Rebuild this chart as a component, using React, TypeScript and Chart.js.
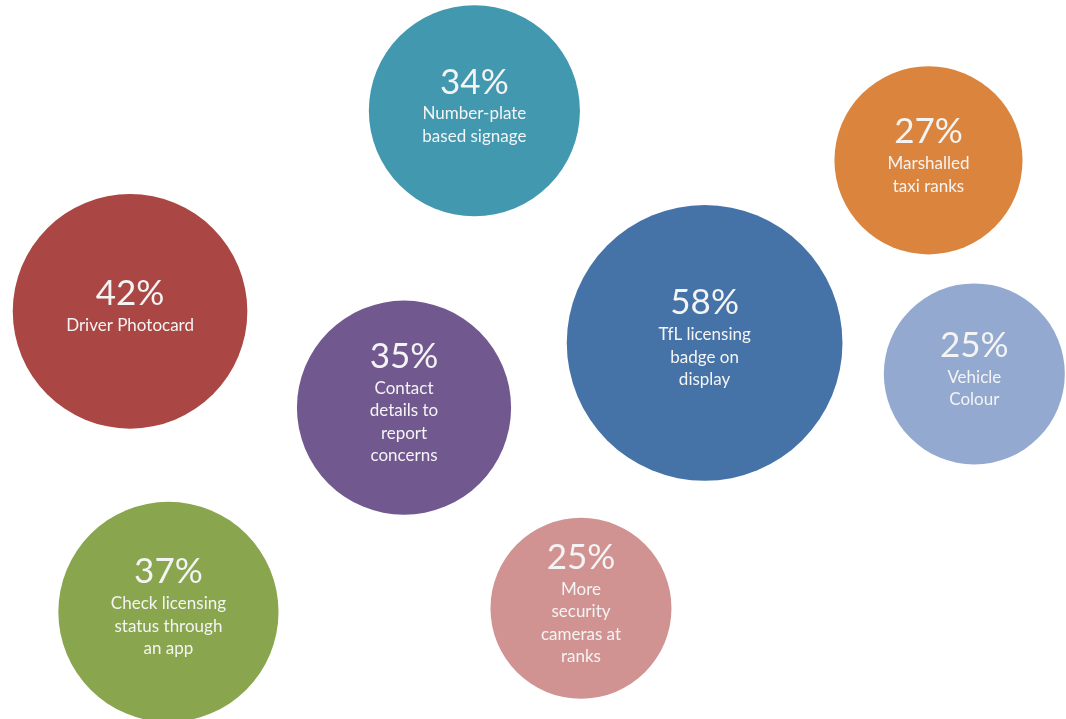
import React, { useEffect, useRef } from "react";
import { Chart, registerables } from "chart.js";

Chart.register(...registerables);

const percentages = [34, 27, 42, 58, 35, 25, 37, 25];
const labels = [
  ["Number-plate", "based signage"],
  ["Marshalled", "taxi ranks"],
  ["Driver Photocard"],
  ["TfL licensing", "badge on", "display"],
  ["Contact", "details to", "report", "concerns"],
  ["Vehicle", "Colour"],
  ["Check licensing", "status through", "an app"],
  ["More", "security", "cameras at", "ranks"],
];
const xPos = [44.5, 87.1, 12.2, 66.1, 37.9, 91.4, 15.8, 54.5];
const yPos = [84.6, 77.7, 56.7, 52.3, 43.3, 48.0, 14.9, 15.4];
const colors = ["#4198AF", "#DB843D", "#AA4643", "#4572A7", "#71588F", "#93A9CF", "#89A54E", "#D19392"];

const FONT = "Lato, 'Open Sans', sans-serif";

const labelPlugin = {
  id: "bubbleLabels",
  afterDatasetsDraw(chart: any) {
    const ctx = chart.ctx;
    const meta = chart.getDatasetMeta(0);
    const s = chart.width / 1066;
    ctx.save();
    ctx.fillStyle = "#f4f4f4";
    ctx.textAlign = "center";
    ctx.textBaseline = "middle";
    meta.data.forEach((el: any, i: number) => {
      const lines = labels[i];
      const pctH = 41 * s;
      const lineH = 22.5 * s;
      const H = pctH + lines.length * lineH;
      const top = el.y - H / 2 - 6 * s;
      ctx.font = `${35 * s}px ${FONT}`;
      ctx.fillText(`${percentages[i]}%`, el.x, top + pctH / 2);
      ctx.font = `${17 * s}px ${FONT}`;
      lines.forEach((ln, j) => {
        ctx.fillText(ln, el.x, top + pctH + lineH * j + lineH / 2);
      });
    });
    ctx.restore();
  },
};

export default function App() {
  const ref = useRef<HTMLCanvasElement>(null);
  useEffect(() => {
    document.body.style.margin = "0";
    const chart = new Chart(ref.current!, {
      type: "bubble",
      data: {
        datasets: [
          {
            data: percentages.map((_v, i) => ({ x: xPos[i], y: yPos[i] })),
            backgroundColor: colors,
            borderWidth: 0,
            hoverBorderWidth: 0,
            radius: (c: any) => {
              const v = percentages[c.dataIndex];
              return 18.1 * Math.sqrt(v) * (c.chart.width / 1066);
            },
            clip: false,
          } as any,
        ],
      },
      options: {
        animation: false,
        responsive: true,
        maintainAspectRatio: false,
        layout: { padding: 0, autoPadding: false } as any,
        plugins: { legend: { display: false }, tooltip: { enabled: false } },
        scales: {
          x: { display: false, min: 0, max: 100 },
          y: { display: false, min: 0, max: 100 },
        },
      },
      plugins: [labelPlugin],
    });
    return () => chart.destroy();
  }, []);
  return (
    <div style={{ width: 1066, height: 719, position: "relative", background: "#fff" }}>
      <canvas ref={ref} />
    </div>
  );
}
